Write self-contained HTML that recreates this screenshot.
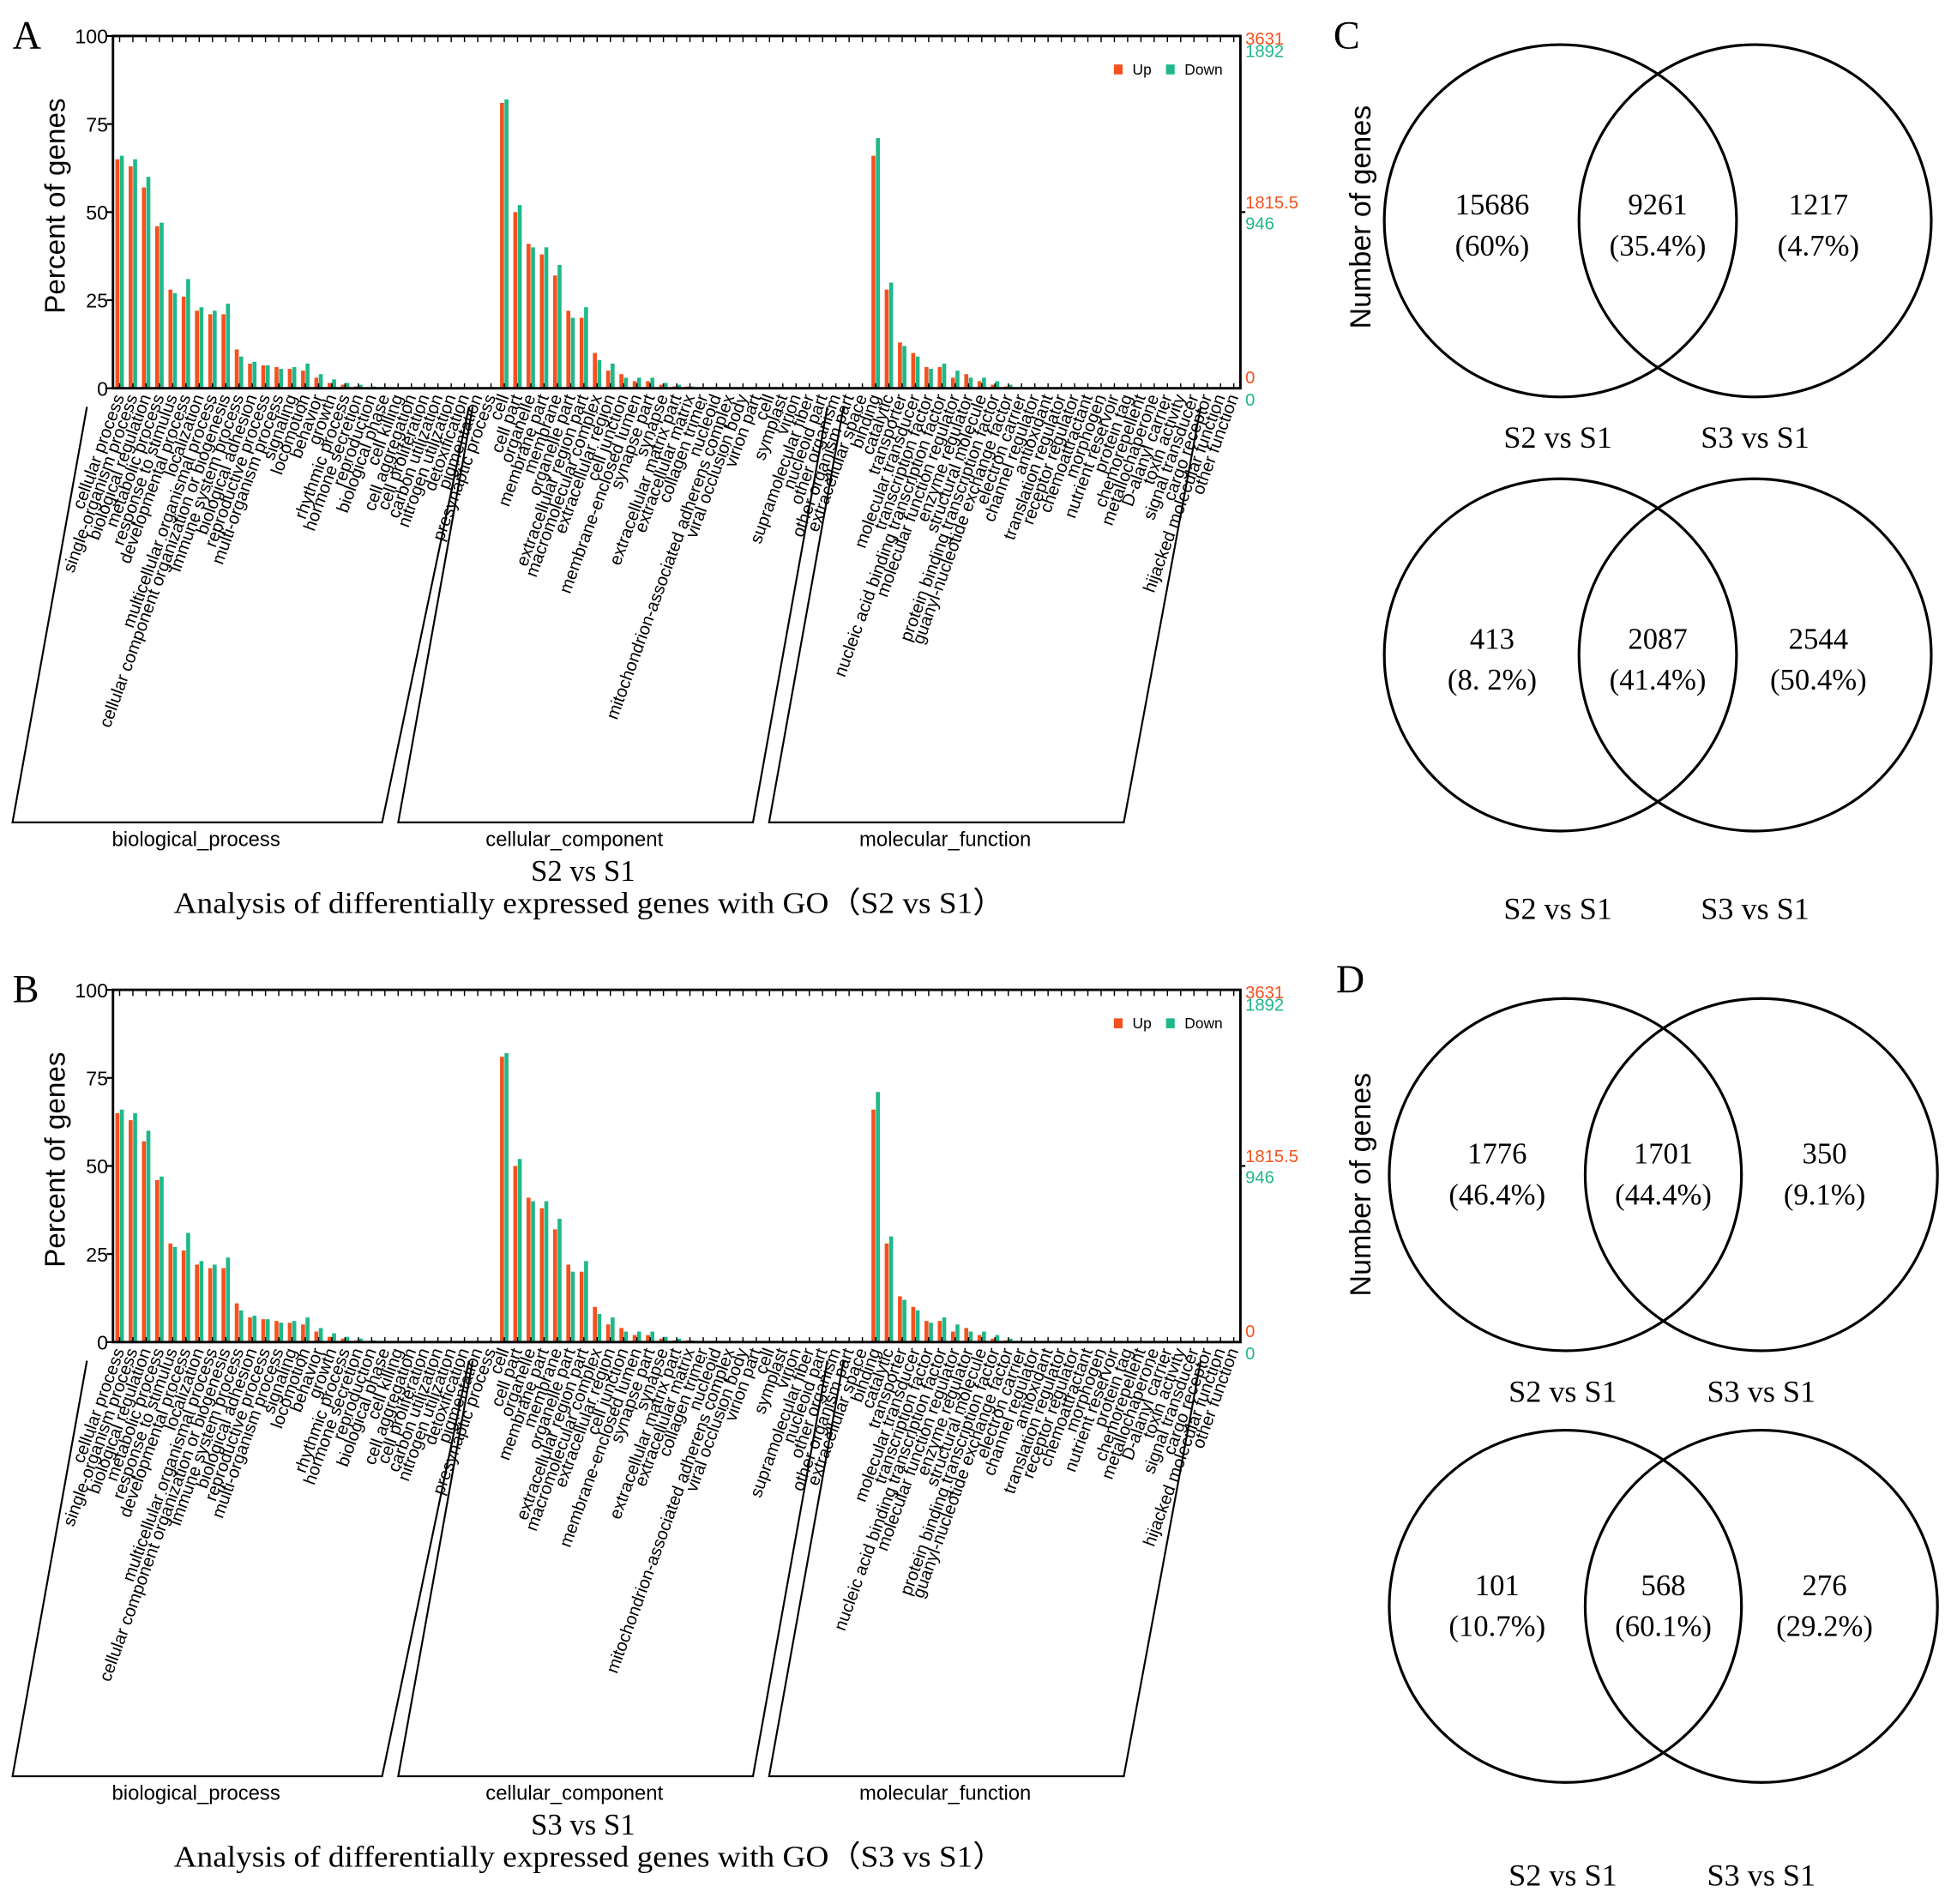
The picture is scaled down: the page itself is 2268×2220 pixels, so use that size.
<!DOCTYPE html>
<html><head><meta charset="utf-8"><style>
html,body{margin:0;padding:0;background:#fff}
svg{display:block}
text{font-family:"Liberation Sans",sans-serif}
.serif{font-family:"Liberation Serif",serif}
</style></head><body>
<svg id="root" width="2268" height="2220" viewBox="0 0 1568 1535" xmlns="http://www.w3.org/2000/svg">
<rect width="1568" height="1535" fill="#fff"/>
</svg>
<script>
const bpNames=["cellular process","single-organism process","biological regulation","metabolic process","response to stimulus","developmental process","localization","multicellular organismal process","cellular component organization or biogenesis","immune system process","biological adhesion","reproductive process","multi-organism process","signaling","locomotion","behavior","growth","rhythmic process","hormone secretion","reproduction","biological phase","cell killing","cell aggregation","cell proliferation","carbon utilization","nitrogen utilization","detoxification","pigmentation","presynaptic process"];
const bpUp=[65,63,57,46,28,26,22,21,21,11,7,6.5,6,5.5,5,3,1.5,1,0.5,0.3,0,0,0,0,0,0,0,0,0];
const bpDown=[66,65,60,47,27,31,23,22,24,9,7.5,6.5,5.5,6,7,4,2.5,1.5,1,0.5,0,0,0,0,0,0,0,0,0];
const ccNames=["cell","cell part","organelle","membrane part","membrane","organelle part","extracellular region part","macromolecular complex","extracellular region","cell junction","membrane-enclosed lumen","synapse part","synapse","extracellular matrix part","extracellular matrix","collagen trimer","nucleoid","mitochondrion-associated adherens complex","viral occlusion body","virion part","cell","symplast","virion","supramolecular fiber","nucleoid part","other organism","other organism part","extracellular space"];
const ccUp=[81,50,41,38,32,22,20,10,5,4,2,2,1,0.5,0.5,0,0,0,0,0,0,0,0,0,0,0,0,0];
const ccDown=[82,52,40,40,35,20,23,8,7,3,3,3,1.5,1,0.5,0,0,0,0,0,0,0,0,0,0,0,0,0];
const mfNames=["binding","catalytic","transporter","molecular transducer","transcription factor","nucleic acid binding transcription factor","molecular function regulator","enzyme regulator","structural molecule","protein binding transcription factor","guanyl-nucleotide exchange factor","electron carrier","channel regulator","antioxidant","translation regulator","receptor regulator","chemoattractant","morphogen","nutrient reservoir","protein tag","chemorepellent","metallochaperone","D-alanyl carrier","toxin activity","signal transducer","cargo receptor","hijacked molecular function","other function"];
const mfUp=[66,28,13,10,6,6,3,4,2,1,0.5,0,0,0,0,0,0,0,0,0,0,0,0,0,0,0,0,0];
const mfDown=[71,30,12,9,5.5,7,5,3,3,2,1,0,0,0,0,0,0,0,0,0,0,0,0,0,0,0,0,0];
const yTicks=[0,25,50,75,100];

const NS="http://www.w3.org/2000/svg";
const root=document.getElementById('root');
function el(tag,attrs,parent,txt){const e=document.createElementNS(NS,tag);for(const k in attrs)e.setAttribute(k,attrs[k]);if(txt!==undefined)e.textContent=txt;(parent||root).appendChild(e);return e;}

function goChart(oy,letter,title,caption,nm){
  const g=el('g',{});
  
  
  const L=91,R=1000,T=oy+29,B=oy+313;
  const names=bpNames.concat(ccNames,mfNames);
  const ups=bpUp.concat(ccUp,mfUp), downs=bpDown.concat(ccDown,mfDown);
  const n=names.length, step=(R-L)/n;
  const xs=i=>L+step*(i+0.5);
  const ys=v=>B-(v/100)*(B-T);
  const lt=el('text',{x:10,y:oy+39,'font-size':32,class:'serif'},g,letter);
  
  for(let i=0;i<n;i++){
    const bu=el('rect',{x:xs(i)-3.4,y:ys(ups[i]),width:3.2,height:B-ys(ups[i]),fill:'#f4511e'},g);
    
    const bd=el('rect',{x:xs(i)+0.2,y:ys(downs[i]),width:3.2,height:B-ys(downs[i]),fill:'#1fb88a'},g);
    
    el('line',{x1:xs(i),x2:xs(i),y1:T,y2:T+5,stroke:'#000','stroke-width':1},g);
    el('line',{x1:xs(i),x2:xs(i),y1:B,y2:B-4,stroke:'#000','stroke-width':1},g);
    const tx=el('text',{x:0,y:0,'font-size':14,'text-anchor':'end',transform:`translate(${xs(i)+4},${B+7}) rotate(-70)`},g,names[i]);
    
  }
  el('rect',{x:L,y:T,width:R-L,height:B-T,fill:'none',stroke:'#000','stroke-width':2},g);
  yTicks.forEach(v=>{
    el('line',{x1:L-5,x2:L,y1:ys(v),y2:ys(v),stroke:'#000','stroke-width':1.5},g);
    const t=el('text',{x:L-4,y:ys(v)+6,'font-size':16,'text-anchor':'end'},g,String(v));
    
  });
  const yt=el('text',{x:0,y:0,'font-size':23,'text-anchor':'middle',transform:`translate(52,${oy+166}) rotate(-90)`},g,'Percent of genes');
  
  const rl=[['3631',oy+36,'#f4511e'],['1892',oy+46,'#1fb88a'],['1815.5',oy+168,'#f4511e'],['946',oy+185,'#1fb88a'],['0',oy+309,'#f4511e'],['0',oy+327,'#1fb88a']];
  rl.forEach(r=>{const t=el('text',{x:1004,y:r[1],'font-size':14,fill:r[2]},g,r[0]);});
  el('line',{x1:R,x2:R+4,y1:oy+171,y2:oy+171,stroke:'#000','stroke-width':1.5},g);
  const lg=el('g',{},g);
  el('rect',{x:898,y:oy+52,width:7,height:8,fill:'#f4511e'},lg);
  el('text',{x:913,y:oy+60,'font-size':12},lg,'Up');
  el('rect',{x:940,y:oy+52,width:7,height:8,fill:'#1fb88a'},lg);
  el('text',{x:955,y:oy+60,'font-size':12},lg,'Down');
  const br=[[10,308,70,378,158,'biological_process'],[321,607,381,667,463,'cellular_component'],[620,906,680,968,762,'molecular_function']];
  br.forEach(b=>{
    const p=el('polyline',{points:`${b[2]},${B+15} ${b[0]},${oy+663} ${b[1]},${oy+663} ${b[3]},${B+15}`,fill:'none',stroke:'#000','stroke-width':1.5},g);
    
    const t=el('text',{x:b[4],y:oy+682,'font-size':16.5,'text-anchor':'middle'},g,b[5]);
    
  });
  const t1=el('text',{x:470,y:oy+710,'font-size':24,'text-anchor':'middle',class:'serif'},g,title);
  
  const t2=el('text',{x:475,y:oy+736,'font-size':24,'text-anchor':'middle',class:'serif',textLength:670,lengthAdjust:'spacingAndGlyphs'},g,caption);
  
}
goChart(0,'A','S2 vs S1','Analysis of differentially expressed genes with GO（S2 vs S1）','go-chart-a');
goChart(769,'B','S3 vs S1','Analysis of differentially expressed genes with GO（S3 vs S1）','go-chart-b');

function venn(cx1,cx2,cy,r,vals,pcts,labY,textDy,nm){
  const g=el('g',{});
  
  
  el('circle',{cx:cx1,cy:cy,r:r,fill:'none',stroke:'#000','stroke-width':2.2},g);
  el('circle',{cx:cx2,cy:cy,r:r,fill:'none',stroke:'#000','stroke-width':2.2},g);
  const xs=[cx1-55,(cx1+cx2)/2,cx2+51];
  for(let i=0;i<3;i++){
    const a=el('text',{x:xs[i],y:cy-5+textDy,'font-size':24,'text-anchor':'middle',class:'serif'},g,vals[i]);
    
    const b=el('text',{x:xs[i],y:cy+28+textDy,'font-size':24,'text-anchor':'middle',class:'serif'},g,pcts[i]);
    
  }
  const l1=el('text',{x:cx1-2,y:labY,'font-size':25,'text-anchor':'middle',class:'serif'},g,'S2 vs S1');
  
  const l2=el('text',{x:cx2,y:labY,'font-size':25,'text-anchor':'middle',class:'serif'},g,'S3 vs S1');
  
}
venn(1258,1415,178,142,['15686','9261','1217'],['(60%)','(35.4%)','(4.7%)'],361,0,'venn-c-top');
venn(1258,1415,528,142,['413','2087','2544'],['(8. 2%)','(41.4%)','(50.4%)'],741,0,'venn-c-bottom');
venn(1262,1420,947,142,['1776','1701','350'],['(46.4%)','(44.4%)','(9.1%)'],1130,-4,'venn-d-top');
venn(1262,1420,1295,142,['101','568','276'],['(10.7%)','(60.1%)','(29.2%)'],1520,-4,'venn-d-bottom');
[['C',1075,39],['D',1077,800]].forEach(p=>{const t=el('text',{x:p[1],y:p[2],'font-size':32,class:'serif'},undefined,p[0]);});
[175,955].forEach(y=>{const t=el('text',{x:0,y:0,'font-size':23.5,'text-anchor':'middle',transform:`translate(1105,${y}) rotate(-90)`},undefined,'Number of genes');});
</script>
</body></html>
